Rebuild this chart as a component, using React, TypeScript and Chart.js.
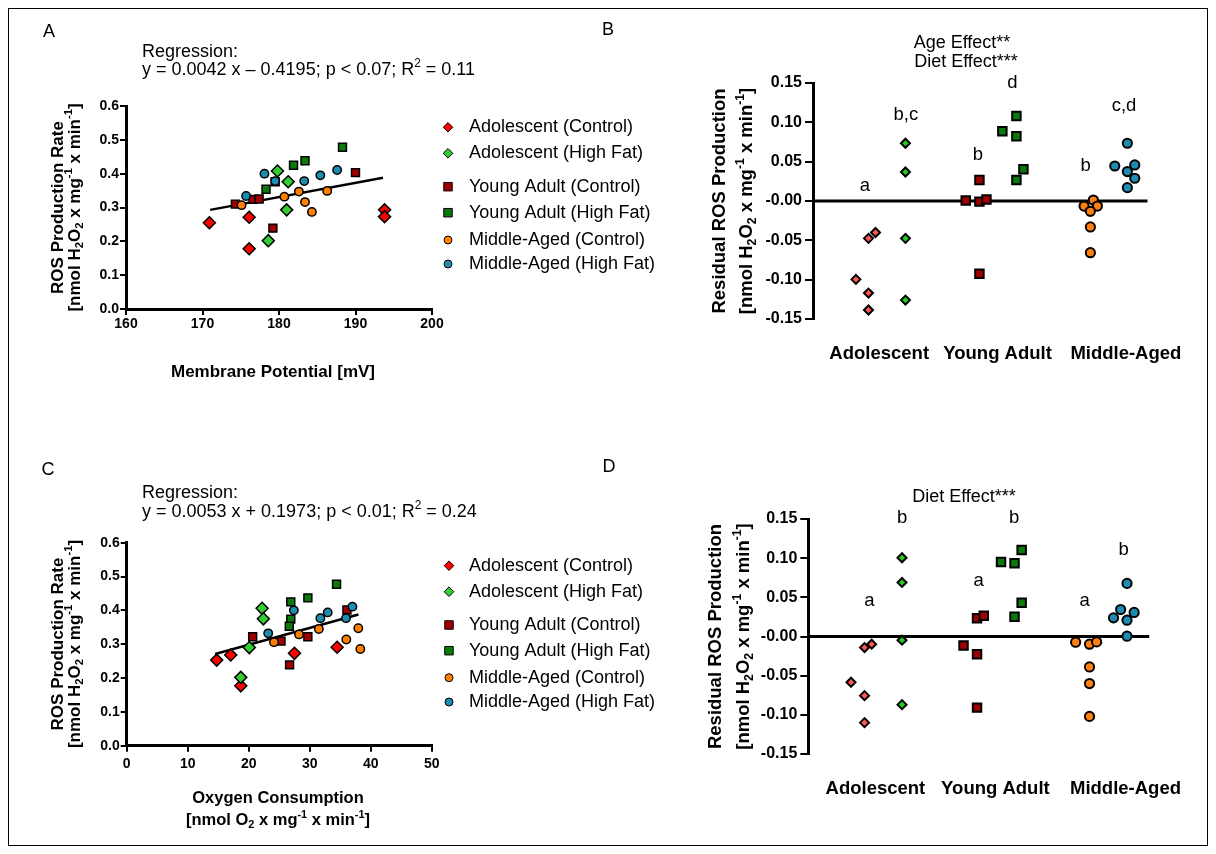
import React, { useEffect, useRef } from 'react';
import { Chart, registerables } from 'chart.js';

Chart.register(...registerables);

const FONT = "'Liberation Sans', Arial, Helvetica, sans-serif";
const OFF = 8; // page offset of the figure (body margin)
const FIG_W = 1200;
const FIG_H = 838;

Chart.defaults.font.family = FONT;
Chart.defaults.color = '#000';

// ---------- shared categories ----------
const GROUPS = [
  'Adolescent (Control)',
  'Adolescent (High Fat)',
  'Young Adult (Control)',
  'Young Adult (High Fat)',
  'Middle-Aged (Control)',
  'Middle-Aged (High Fat)',
];
const AGE_GROUPS = ['Adolescent', 'Young Adult', 'Middle-Aged'];
const AGE_LABEL_POS = [0.29, 3.49, 6.96];
const MARKERS = ['rectRot', 'rectRot', 'rect', 'rect', 'circle', 'circle'];
const COLORS_SCATTER = ['#ff0000', '#33cc33', '#a00000', '#0a7a0a', '#ff8000', '#1e8bb0'];
const COLORS_RESID = ['#ff5555', '#22cc22', '#a00000', '#0a7a0a', '#ff7f10', '#1e8bb0'];

// ---------- Panel A: Membrane potential vs ROS ----------
const A_XTICKS = [160, 170, 180, 190, 200];
const A_YTICKS = [0, 0.1, 0.2, 0.3, 0.4, 0.5, 0.6];
const A_X_AC = [170.9, 176.1, 176.1, 193.8, 193.8];
const A_Y_AC = [0.255, 0.271, 0.178, 0.293, 0.273];
const A_X_AH = [179.8, 181.2, 181.0, 178.6];
const A_Y_AH = [0.408, 0.376, 0.293, 0.202];
const A_X_YC = [174.3, 176.6, 177.4, 179.2, 190.0];
const A_Y_YC = [0.310, 0.324, 0.325, 0.239, 0.403];
const A_X_YH = [178.3, 179.5, 181.9, 183.4, 188.3];
const A_Y_YH = [0.354, 0.376, 0.425, 0.438, 0.478];
const A_X_MC = [175.1, 180.7, 182.6, 183.4, 184.3, 186.3];
const A_Y_MC = [0.307, 0.332, 0.347, 0.316, 0.287, 0.349];
const A_X_MH = [175.7, 178.1, 179.5, 183.3, 185.4, 187.6];
const A_Y_MH = [0.334, 0.400, 0.378, 0.378, 0.395, 0.411];
const A_REG_X = [171.0, 193.6];
const A_REG_Y = [0.293, 0.388];
const A_EQ = 'y = 0.0042 x \u2013 0.4195; p < 0.07; R^{2} = 0.11';

// ---------- Panel C: Oxygen consumption vs ROS ----------
const C_XTICKS = [0, 10, 20, 30, 40, 50];
const C_YTICKS = [0, 0.1, 0.2, 0.3, 0.4, 0.5, 0.6];
const C_X_AC = [14.75, 17.05, 18.7, 27.5, 34.5];
const C_Y_AC = [0.253, 0.268, 0.177, 0.273, 0.291];
const C_X_AH = [22.2, 22.4, 20.1, 18.7];
const C_Y_AH = [0.406, 0.375, 0.290, 0.202];
const C_X_YC = [20.65, 25.3, 26.7, 29.7, 36.1];
const C_Y_YC = [0.322, 0.309, 0.239, 0.322, 0.401];
const C_X_YH = [26.9, 29.7, 34.4, 26.9, 26.65];
const C_Y_YH = [0.425, 0.437, 0.477, 0.374, 0.353];
const C_X_MC = [24.15, 28.25, 31.5, 36.0, 37.97, 38.3];
const C_Y_MC = [0.306, 0.329, 0.345, 0.314, 0.347, 0.286];
const C_X_MH = [23.2, 27.4, 31.75, 32.95, 35.95, 37.0];
const C_Y_MH = [0.332, 0.400, 0.377, 0.394, 0.377, 0.411];
const C_REG_X = [14.5, 38.0];
const C_REG_Y = [0.271, 0.388];
const C_EQ = 'y = 0.0053 x + 0.1973; p < 0.01; R^{2} = 0.24';

// ---------- Panel B: residuals (membrane potential) ----------
const RES_YTICKS = [-0.15, -0.1, -0.05, 0, 0.05, 0.1, 0.15];
const B_X_AC = [0.19, 0, -0.34, 0, 0];
const B_Y_AC = [-0.040, -0.0475, -0.0996, -0.117, -0.1386];
const B_X_AH = [1, 1, 1, 1];
const B_Y_AH = [0.0734, 0.0369, -0.0475, -0.126];
const B_X_YC = [3, 2.63, 3, 3.19, 3];
const B_Y_YC = [0.0267, 0.0005, -0.0008, 0.0018, -0.0924];
const B_X_YH = [3.62, 4, 4, 4.19, 4];
const B_Y_YH = [0.0887, 0.108, 0.0823, 0.0403, 0.0267];
const B_X_MC = [6.08, 5.83, 6.19, 6, 6, 6];
const B_Y_MC = [0.0013, -0.0064, -0.0064, -0.0131, -0.033, -0.0657];
const B_X_MH = [7, 6.66, 7.2, 7, 7.2, 7];
const B_Y_MH = [0.0734, 0.0445, 0.0458, 0.0374, 0.0289, 0.017];
const B_LETTERS = ['a', 'b,c', 'b', 'd', 'b', 'c,d'];
const B_LETTER_X = [-0.1, 1.01, 2.96, 3.89, 5.87, 6.91];
const B_LETTER_Y = [0.019, 0.109, 0.058, 0.1506, 0.0445, 0.121];

// ---------- Panel D: residuals (oxygen consumption) ----------
const D_X_AC = [0.19, 0, -0.36, 0, 0];
const D_Y_AC = [-0.0098, -0.0141, -0.0584, -0.0755, -0.110];
const D_X_AH = [1, 1, 1, 1];
const D_Y_AH = [0.1005, 0.069, -0.0047, -0.087];
const D_X_YC = [3, 3.18, 2.64, 3, 3];
const D_Y_YC = [0.0234, 0.0264, -0.0115, -0.0226, -0.0908];
const D_X_YH = [3.64, 4, 4.19, 4.19, 4];
const D_Y_YH = [0.095, 0.0934, 0.1104, 0.043, 0.0251];
const D_X_MC = [5.63, 6, 6.19, 6, 6, 6];
const D_Y_MC = [-0.0073, -0.0098, -0.0069, -0.0389, -0.0601, -0.102];
const D_X_MH = [7, 6.83, 6.64, 7, 7.19, 7];
const D_Y_MH = [0.0678, 0.0345, 0.0238, 0.0208, 0.0307, 0.0004];
const D_LETTERS = ['a', 'b', 'a', 'b', 'a', 'b'];
const D_LETTER_X = [0.13, 1.0, 3.04, 3.99, 5.87, 6.91];
const D_LETTER_Y = [0.0455, 0.152, 0.0711, 0.152, 0.0455, 0.111];

const Y_TITLE_SCATTER = 'ROS Production Rate';
const Y_TITLE_RESID = 'Residual ROS Production';
const UNITS_H2O2 = '[nmol H_{2}O_{2} x mg^{-1} x min^{-1}]';
const UNITS_O2 = '[nmol O_{2} x mg^{-1} x min^{-1}]';

// ---------- drawing helpers ----------
type Seg = { t: string; k: number };
function parseRich(s: string): Seg[] {
  const segs: Seg[] = [];
  const re = /([_^])\{([^}]*)\}/g;
  let last = 0;
  let m: RegExpExecArray | null;
  while ((m = re.exec(s))) {
    if (m.index > last) segs.push({ t: s.slice(last, m.index), k: 0 });
    segs.push({ t: m[2], k: m[1] === '_' ? 1 : 2 });
    last = re.lastIndex;
  }
  if (last < s.length) segs.push({ t: s.slice(last), k: 0 });
  return segs;
}

function rich(
  ctx: CanvasRenderingContext2D,
  s: string,
  px: number,
  py: number,
  size: number,
  bold: boolean,
  align: 'left' | 'center',
  rot = false
) {
  const segs = parseRich(s);
  const f = (sz: number) => `${bold ? 'bold ' : ''}${sz}px ${FONT}`;
  const small = size * 0.66;
  let w = 0;
  for (const g of segs) {
    ctx.font = f(g.k ? small : size);
    w += ctx.measureText(g.t).width;
  }
  ctx.save();
  ctx.translate(px - OFF, py - OFF);
  if (rot) ctx.rotate(-Math.PI / 2);
  let cx = align === 'center' ? -w / 2 : 0;
  ctx.textBaseline = 'middle';
  ctx.textAlign = 'left';
  ctx.fillStyle = '#000';
  for (const g of segs) {
    ctx.font = f(g.k ? small : size);
    const dy = g.k === 1 ? size * 0.3 : g.k === 2 ? -size * 0.33 : 0;
    ctx.fillText(g.t, cx, dy);
    cx += ctx.measureText(g.t).width;
  }
  ctx.restore();
}

function marker(ctx: CanvasRenderingContext2D, style: string, x: number, y: number, r: number, fill: string, lw: number) {
  ctx.beginPath();
  if (style === 'rectRot') {
    ctx.moveTo(x, y - r);
    ctx.lineTo(x + r, y);
    ctx.lineTo(x, y + r);
    ctx.lineTo(x - r, y);
    ctx.closePath();
  } else if (style === 'rect') {
    const s = r * Math.SQRT1_2;
    ctx.rect(x - s, y - s, 2 * s, 2 * s);
  } else {
    ctx.arc(x, y, r, 0, Math.PI * 2);
  }
  ctx.fillStyle = fill;
  ctx.fill();
  ctx.lineWidth = lw;
  ctx.strokeStyle = '#000';
  ctx.stroke();
}

function drawLegend(ctx: CanvasRenderingContext2D, mx: number, tx: number, rows: number[], colors: string[]) {
  const radii = [4.8, 4.8, 6, 6, 4, 4];
  GROUPS.forEach((g, i) => {
    marker(ctx, MARKERS[i], mx - OFF, rows[i] - OFF, radii[i], colors[i], 1);
    rich(ctx, g, tx, rows[i], 18, false, 'left');
  });
}

const toPts = (xs: number[], ys: number[]) => xs.map((x, i) => ({ x, y: ys[i] }));

function groupDatasets(series: number[][][], colors: string[], radii: number[], bw: number) {
  return series.map(([xs, ys], i) => ({
    type: 'scatter' as const,
    label: GROUPS[i],
    data: toPts(xs, ys),
    pointStyle: MARKERS[i],
    pointRadius: radii[i],
    pointHoverRadius: radii[i],
    backgroundColor: colors[i],
    borderColor: '#000',
    borderWidth: bw,
    pointBorderWidth: bw,
    order: 6 - i,
  }));
}

function lineDataset(xs: number[], ys: number[], width: number) {
  return {
    type: 'line' as const,
    label: 'line',
    data: toPts(xs, ys),
    borderColor: '#000',
    borderWidth: width,
    pointRadius: 0,
    fill: false,
    order: 20,
  };
}

function padFor(l: number, t: number, r: number, b: number, yw: number, xh: number) {
  return {
    left: l - OFF - yw,
    top: t - OFF,
    right: FIG_W - (r - OFF),
    bottom: FIG_H - (b - OFF) - xh,
  };
}

function valueAxis(
  min: number,
  max: number,
  ticks: number[],
  fmt: (v: number) => string,
  fontSize: number,
  tickLen: number,
  pad: number,
  fit: number,
  horizontal: boolean
) {
  return {
    type: 'linear' as const,
    min,
    max,
    afterBuildTicks: (s: any) => {
      s.ticks = ticks.map((v) => ({ value: v }));
    },
    afterFit: (s: any) => {
      if (horizontal) s.height = fit;
      else s.width = fit;
    },
    grid: { display: true, drawOnChartArea: false, drawTicks: true, tickLength: tickLen, lineWidth: 2, color: '#000' },
    border: { display: true, width: 3, color: '#000' },
    ticks: {
      font: { size: fontSize, weight: 'bold' as const, family: FONT },
      color: '#000',
      padding: pad,
      autoSkip: false,
      maxRotation: 0,
      callback: (v: any) => fmt(Number(v)),
    },
  };
}

function categoryAxis(min: number, max: number, pad: number, fit: number) {
  return {
    type: 'linear' as const,
    min,
    max,
    afterBuildTicks: (s: any) => {
      s.ticks = AGE_LABEL_POS.map((v) => ({ value: v }));
    },
    afterFit: (s: any) => {
      s.height = fit;
    },
    grid: { display: false, drawTicks: false },
    border: { display: false },
    ticks: {
      font: { size: 18.5, weight: 'bold' as const, family: FONT },
      color: '#000',
      padding: pad,
      autoSkip: false,
      maxRotation: 0,
      callback: (_v: any, i: number) => AGE_GROUPS[i],
    },
  };
}

function decor(id: string, draw: (ctx: CanvasRenderingContext2D, chart: any) => void) {
  return {
    id,
    afterDraw(chart: any) {
      const ctx = chart.ctx as CanvasRenderingContext2D;
      ctx.save();
      draw(ctx, chart);
      ctx.restore();
    },
  };
}

function drawLetters(ctx: CanvasRenderingContext2D, chart: any, labels: string[], xs: number[], ys: number[]) {
  const sx = chart.scales.x;
  const sy = chart.scales.y;
  labels.forEach((t, i) => {
    rich(ctx, t, sx.getPixelForValue(xs[i]) + OFF, sy.getPixelForValue(ys[i]) + OFF, 18.5, false, 'center');
  });
}

const baseOptions = (padding: any) => ({
  animation: false as const,
  responsive: false,
  devicePixelRatio: 1,
  events: [] as any[],
  layout: { autoPadding: false, padding },
  plugins: { legend: { display: false }, tooltip: { enabled: false } },
});

const fmt1 = (v: number) => v.toFixed(1);
const fmtInt = (v: number) => String(Math.round(v));
const fmtRes = (v: number) => (Math.abs(v) < 1e-9 ? '-0.00' : v.toFixed(2));

const SCATTER_RADII = [6, 6, 5.6, 5.6, 4.2, 4.2];
const RESID_RADII = [4.5, 4.5, 6, 6, 4.6, 4.6];

function configA(): any {
  const series = [
    [A_X_AC, A_Y_AC], [A_X_AH, A_Y_AH], [A_X_YC, A_Y_YC],
    [A_X_YH, A_Y_YH], [A_X_MC, A_Y_MC], [A_X_MH, A_Y_MH],
  ];
  return {
    type: 'scatter',
    data: {
      datasets: [
        ...groupDatasets(series, COLORS_SCATTER, SCATTER_RADII, 1.5),
        lineDataset(A_REG_X, A_REG_Y, 2.5),
      ],
    },
    options: {
      ...baseOptions(padFor(126, 106, 432, 309, 60, 40)),
      scales: {
        x: valueAxis(160, 200, A_XTICKS, fmtInt, 14, 6, 1, 40, true),
        y: valueAxis(0, 0.6, A_YTICKS, fmt1, 14, 6, 1, 60, false),
      },
    },
    plugins: [
      decor('decorA', (ctx) => {
        rich(ctx, 'A', 49, 32, 18, false, 'center');
        rich(ctx, 'Regression:', 142, 52, 18, false, 'left');
        rich(ctx, A_EQ, 142, 70, 18, false, 'left');
        drawLegend(ctx, 448, 469, [127.3, 153.3, 186.7, 212.7, 240, 264], COLORS_SCATTER);
        rich(ctx, Y_TITLE_SCATTER, 58, 207.5, 17, true, 'center', true);
        rich(ctx, UNITS_H2O2, 75, 207.5, 17, true, 'center', true);
        rich(ctx, 'Membrane Potential [mV]', 273, 372, 17, true, 'center');
      }),
    ],
  };
}

function configC(): any {
  const series = [
    [C_X_AC, C_Y_AC], [C_X_AH, C_Y_AH], [C_X_YC, C_Y_YC],
    [C_X_YH, C_Y_YH], [C_X_MC, C_Y_MC], [C_X_MH, C_Y_MH],
  ];
  return {
    type: 'scatter',
    data: {
      datasets: [
        ...groupDatasets(series, COLORS_SCATTER, SCATTER_RADII, 1.5),
        lineDataset(C_REG_X, C_REG_Y, 2.5),
      ],
    },
    options: {
      ...baseOptions(padFor(126.7, 542.7, 431.7, 745.7, 60, 40)),
      scales: {
        x: valueAxis(0, 50, C_XTICKS, fmtInt, 14, 6, 4, 40, true),
        y: valueAxis(0, 0.6, C_YTICKS, fmt1, 14, 6, 1, 60, false),
      },
    },
    plugins: [
      decor('decorC', (ctx) => {
        rich(ctx, 'C', 48, 470, 18, false, 'center');
        rich(ctx, 'Regression:', 142, 493, 18, false, 'left');
        rich(ctx, C_EQ, 142, 512, 18, false, 'left');
        drawLegend(ctx, 449, 469, [565.7, 591.7, 625, 650.7, 677.7, 702], COLORS_SCATTER);
        rich(ctx, Y_TITLE_SCATTER, 58, 644, 17, true, 'center', true);
        rich(ctx, UNITS_H2O2, 75, 644, 17, true, 'center', true);
        rich(ctx, 'Oxygen Consumption', 278, 798, 16.5, true, 'center');
        rich(ctx, UNITS_O2, 278, 820, 16.5, true, 'center');
      }),
    ],
  };
}

function configB(): any {
  const series = [
    [B_X_AC, B_Y_AC], [B_X_AH, B_Y_AH], [B_X_YC, B_Y_YC],
    [B_X_YH, B_Y_YH], [B_X_MC, B_Y_MC], [B_X_MH, B_Y_MH],
  ];
  return {
    type: 'scatter',
    data: {
      datasets: [
        ...groupDatasets(series, COLORS_RESID, RESID_RADII, 2),
        lineDataset([-1.5, 7.55], [0, 0], 3),
      ],
    },
    options: {
      ...baseOptions(padFor(813, 83, 1167.7, 319, 80, 60)),
      scales: {
        x: categoryAxis(-1.5, 7.55, 24, 60),
        y: valueAxis(-0.15, 0.15, RES_YTICKS, fmtRes, 16, 8, 3, 80, false),
      },
    },
    plugins: [
      decor('decorB', (ctx, chart) => {
        rich(ctx, 'B', 608, 30, 18, false, 'center');
        rich(ctx, 'Age Effect**', 962, 43, 18, false, 'center');
        rich(ctx, 'Diet Effect***', 966, 62, 18, false, 'center');
        rich(ctx, Y_TITLE_RESID, 720, 201, 18.5, true, 'center', true);
        rich(ctx, UNITS_H2O2, 747, 201, 18.5, true, 'center', true);
        drawLetters(ctx, chart, B_LETTERS, B_LETTER_X, B_LETTER_Y);
      }),
    ],
  };
}

function configD(): any {
  const series = [
    [D_X_AC, D_Y_AC], [D_X_AH, D_Y_AH], [D_X_YC, D_Y_YC],
    [D_X_YH, D_Y_YH], [D_X_MC, D_Y_MC], [D_X_MH, D_Y_MH],
  ];
  return {
    type: 'scatter',
    data: {
      datasets: [
        ...groupDatasets(series, COLORS_RESID, RESID_RADII, 2),
        lineDataset([-1.5, 7.6], [0, 0], 3),
      ],
    },
    options: {
      ...baseOptions(padFor(808.3, 519, 1165.4, 754, 80, 60)),
      scales: {
        x: categoryAxis(-1.5, 7.6, 24, 60),
        y: valueAxis(-0.15, 0.15, RES_YTICKS, fmtRes, 16, 8, 3, 80, false),
      },
    },
    plugins: [
      decor('decorD', (ctx, chart) => {
        rich(ctx, 'D', 609, 467, 18, false, 'center');
        rich(ctx, 'Diet Effect***', 964, 497, 18, false, 'center');
        rich(ctx, Y_TITLE_RESID, 716, 636.5, 18.5, true, 'center', true);
        rich(ctx, UNITS_H2O2, 744, 636.5, 18.5, true, 'center', true);
        drawLetters(ctx, chart, D_LETTERS, D_LETTER_X, D_LETTER_Y);
      }),
    ],
  };
}

const CONFIGS = [configA, configB, configC, configD];

export default function App() {
  const refs = useRef<(HTMLCanvasElement | null)[]>([]);
  useEffect(() => {
    const charts = CONFIGS.map((cfg, i) => new Chart(refs.current[i] as HTMLCanvasElement, cfg()));
    return () => charts.forEach((c) => c.destroy());
  }, []);
  return (
    <div style={{ position: 'relative', width: FIG_W, height: FIG_H }}>
      <div
        style={{
          position: 'absolute',
          left: 0,
          top: 0,
          width: FIG_W,
          height: FIG_H,
          border: '1px solid #000',
          boxSizing: 'border-box',
        }}
      />
      {CONFIGS.map((_, i) => (
        <canvas
          key={i}
          ref={(el) => {
            refs.current[i] = el;
          }}
          width={FIG_W}
          height={FIG_H}
          style={{ position: 'absolute', left: 0, top: 0, width: FIG_W, height: FIG_H }}
        />
      ))}
    </div>
  );
}
